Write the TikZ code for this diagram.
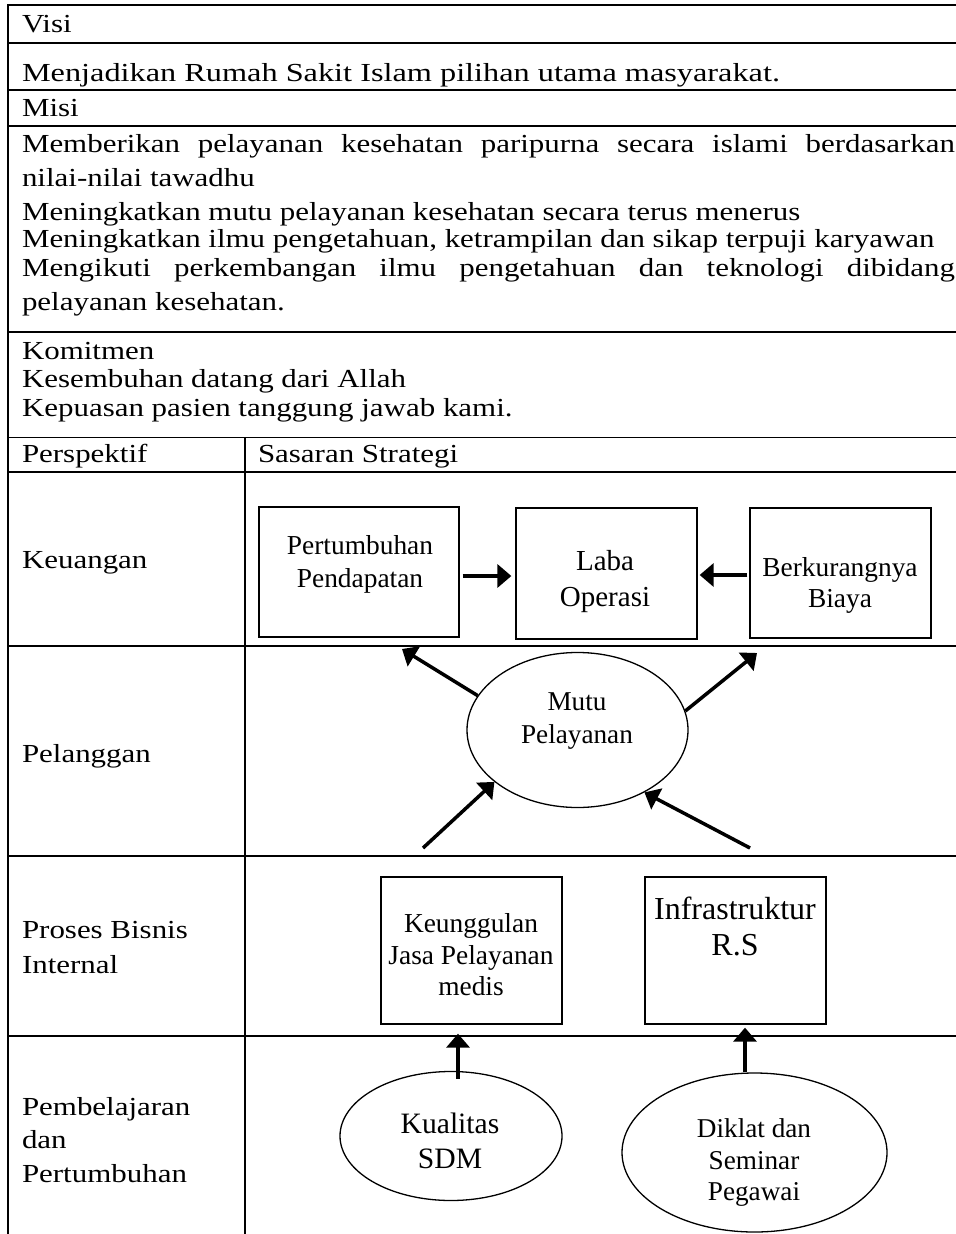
\documentclass[tikz,border=0pt]{standalone}
\usepackage{fontspec}
\usepackage{graphicx}
\usetikzlibrary{arrows.meta,shapes.geometric}
\newfontfamily\tnr{Liberation Serif}
\newfontfamily\bodyf[FakeStretch=1.19]{Liberation Serif}
\newcommand\palf{\bodyf\fontsize{13}{15}\selectfont}
\newcommand\ptx[1]{{\palf #1}}
\newcommand\jtx[2]{{\palf\makebox[#1][s]{#2}}}
\newcommand\wtx[2]{\resizebox{#1}{\height}{\palf #2}}
\newcommand\tf[1]{\tnr\fontsize{#1}{#1}\selectfont}
\begin{document}
\begin{tikzpicture}[x=0.5pt,y=-0.5pt,
  tline/.style={line width=1.4pt},
  nline/.style={line width=0.9pt},
  ptxt/.style={anchor=base west, inner sep=0pt, outer sep=0pt},
  ttxt/.style={anchor=base, inner sep=0pt, outer sep=0pt},
  sbox/.style={draw, rectangle, line width=0.65pt, inner sep=0pt},
  sell/.style={draw, ellipse, line width=0.65pt, inner sep=0pt},
  arr/.style={line width=1.75pt, -{Triangle[length=7pt,width=11.5pt]}}
]
\useasboundingbox (0,0) rectangle (956,1234);
% table rules
\draw[tline] (8,5) -- (956,5);
\draw[tline] (8,43) -- (956,43);
\draw[nline] (8,90) -- (956,90);
\draw[nline] (8,126) -- (956,126);
\draw[tline] (8,332) -- (956,332);
\draw[nline] (8,437.5) -- (956,437.5);
\draw[nline] (8,472) -- (956,472);
\draw[tline] (8,646) -- (956,646);
\draw[tline] (8,856) -- (956,856);
\draw[tline] (8,1036) -- (956,1036);
\draw[tline] (8,4.3) -- (8,1234);
\draw[tline] (245,437.5) -- (245,1234);
% table text
\node[ptxt] (visi) at (22,33) {\ptx{Visi}};
\node[ptxt] (visit) at (22,82) {\wtx{379pt}{Menjadikan Rumah Sakit Islam pilihan utama masyarakat.}};
\node[ptxt] (misi) at (22,117) {\ptx{Misi}};
\node[ptxt] (m1) at (22,153) {\jtx{466.5pt}{Memberikan pelayanan kesehatan paripurna secara islami berdasarkan}};
\node[ptxt] (m2) at (22,187) {\ptx{nilai-nilai tawadhu}};
\node[ptxt] (m3) at (22,221) {\ptx{Meningkatkan mutu pelayanan kesehatan secara terus menerus}};
\node[ptxt] (m4) at (22,248) {\ptx{Meningkatkan ilmu pengetahuan, ketrampilan dan sikap terpuji karyawan}};
\node[ptxt] (m5) at (22,277) {\jtx{466.5pt}{Mengikuti perkembangan ilmu pengetahuan dan teknologi dibidang}};
\node[ptxt] (m6) at (22,311) {\ptx{pelayanan kesehatan.}};
\node[ptxt] (kom) at (22,360) {\ptx{Komitmen}};
\node[ptxt] (k1) at (22,388) {\ptx{Kesembuhan datang dari Allah}};
\node[ptxt] (k2) at (22,417) {\ptx{Kepuasan pasien tanggung jawab kami.}};
\node[ptxt] (persp) at (22,463) {\ptx{Perspektif}};
\node[ptxt] (sas) at (258,463) {\ptx{Sasaran Strategi}};
\node[ptxt] (keu) at (22,568) {\ptx{Keuangan}};
\node[ptxt] (pel) at (22,762) {\ptx{Pelanggan}};
\node[ptxt] (pb1) at (22,938) {\ptx{Proses Bisnis}};
\node[ptxt] (pb2) at (22,973) {\ptx{Internal}};
\node[ptxt] (pp1) at (22,1115) {\ptx{Pembelajaran}};
\node[ptxt] (pp2) at (22,1148) {\ptx{dan}};
\node[ptxt] (pp3) at (22,1182) {\ptx{Pertumbuhan}};
% diagram shapes
\node[sbox, minimum width=100pt, minimum height=65pt] (box1) at (359,572) {};
\node[sbox, minimum width=90.5pt, minimum height=65.5pt] (box2) at (606.5,573.5) {};
\node[sbox, minimum width=90.5pt, minimum height=65pt] (box3) at (840.5,573) {};
\node[sell, minimum width=110.5pt, minimum height=77.5pt] (mutu) at (577.5,730) {};
\node[sbox, minimum width=90.5pt, minimum height=73.5pt] (box4) at (471.5,950.5) {};
\node[sbox, minimum width=90.5pt, minimum height=73.5pt] (box5) at (735.5,950.5) {};
\node[sell, minimum width=111pt, minimum height=64.5pt] (kual) at (451,1136) {};
\node[sell, minimum width=132.5pt, minimum height=79.5pt] (dik) at (754.5,1152.5) {};
% diagram text
\node[ttxt, font={\tf{13.7}}] (t1a) at (360,554) {Pertumbuhan};
\node[ttxt, font={\tf{13.7}}] (t1b) at (360,587) {Pendapatan};
\node[ttxt, font={\tf{14.5}}] (t2a) at (605,570) {Laba};
\node[ttxt, font={\tf{14.5}}] (t2b) at (605,606) {Operasi};
\node[ttxt, font={\tf{13.7}}] (t3a) at (840,576) {Berkurangnya};
\node[ttxt, font={\tf{13.7}}] (t3b) at (840,607) {Biaya};
\node[ttxt, font={\tf{13.6}}] (tma) at (577,710) {Mutu};
\node[ttxt, font={\tf{13.6}}] (tmb) at (577,743) {Pelayanan};
\node[ttxt, font={\tf{13.7}}] (t4a) at (471,932) {Keunggulan};
\node[ttxt, font={\tf{13.7}}] (t4b) at (471,964) {Jasa Pelayanan};
\node[ttxt, font={\tf{13.7}}] (t4c) at (471,995) {medis};
\node[ttxt, font={\tf{16}}] (t5a) at (735,919) {Infrastruktur};
\node[ttxt, font={\tf{16}}] (t5b) at (735,955) {R.S};
\node[ttxt, font={\tf{14.8}}] (t6a) at (450,1133) {Kualitas};
\node[ttxt, font={\tf{14.8}}] (t6b) at (450,1168) {SDM};
\node[ttxt, font={\tf{13.6}}] (t7a) at (754,1137) {Diklat dan};
\node[ttxt, font={\tf{13.6}}] (t7b) at (754,1169) {Seminar};
\node[ttxt, font={\tf{13.6}}] (t7c) at (754,1200) {Pegawai};
% free ends
\coordinate (ul) at (402,649);
\coordinate (ur) at (757,653);
\coordinate (ll) at (423,848);
\coordinate (lr) at (750,848);
% connectors
\draw[arr, shorten <=1.5pt, shorten >=2pt] ([yshift=-2pt]box1.east) -- ([yshift=-2pt]box1.east -| box2.west);
\draw[arr, shorten <=1pt, shorten >=1pt] ([yshift=-1pt]box3.west) -- ([yshift=-1pt]box3.west -| box2.east);
\draw[arr] (mutu.161.8) -- (ul);
\draw[arr] (mutu.10) -- (ur);
\draw[arr] (ll) -- (mutu.212.7);
\draw[arr] (lr) -- (mutu.-43);
\draw[arr, shorten >=4.5pt] ([xshift=3.5pt,yshift=-4pt]kual.north) -- ([xshift=3.5pt]kual.north |- box4.south);
\draw[arr, shorten >=1.5pt] ([xshift=-4.75pt]dik.north) -- ([xshift=-4.75pt]dik.north |- box5.south);
\end{tikzpicture}
\end{document}
